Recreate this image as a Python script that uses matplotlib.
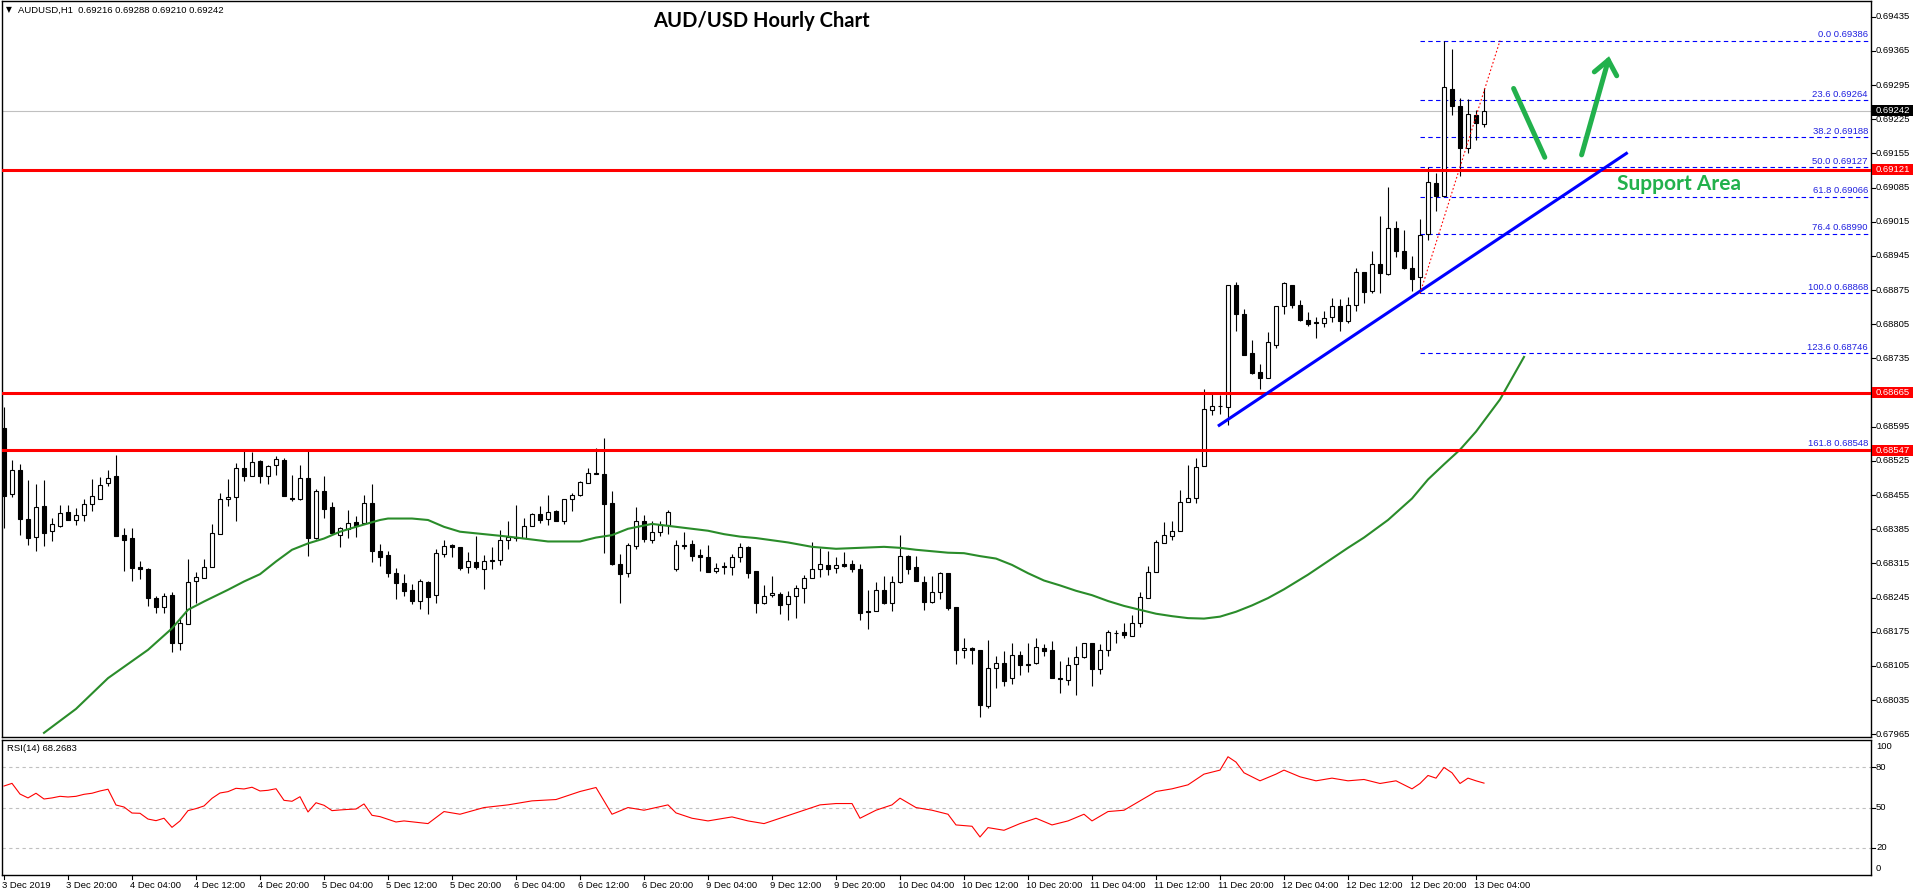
import matplotlib
matplotlib.use("Agg")
import matplotlib.pyplot as plt
import matplotlib.transforms as mtransforms
from matplotlib.patches import Rectangle

# ---------------- data ----------------
opens = [0.68592,0.68457,0.68506,0.68406,0.68370,0.68432,0.68381,0.68392,0.68420,0.68405,
0.68414,0.68436,0.68446,0.68479,0.68495,0.68373,0.68367,0.68308,0.68303,0.68244,
0.68225,0.68250,0.68153,0.68190,0.68280,0.68285,0.68308,0.68375,0.68446,0.68452,
0.68510,0.68495,0.68524,0.68495,0.68516,0.68526,0.68450,0.68448,0.68489,0.68368,
0.68463,0.68430,0.68373,0.68386,0.68399,0.68397,0.68438,0.68340,0.68332,0.68295,
0.68274,0.68260,0.68239,0.68278,0.68250,0.68334,0.68352,0.68349,0.68307,0.68317,
0.68304,0.68323,0.68323,0.68362,0.68369,0.68368,0.68391,0.68416,0.68407,0.68422,
0.68401,0.68448,0.68456,0.68479,0.68500,0.68498,0.68438,0.68313,0.68296,0.68351,
0.68401,0.68364,0.68379,0.68394,0.68304,0.68352,0.68354,0.68332,0.68328,0.68299,
0.68310,0.68308,0.68329,0.68349,0.68300,0.68233,0.68250,0.68252,0.68231,0.68248,
0.68264,0.68285,0.68303,0.68311,0.68305,0.68313,0.68313,0.68303,0.68217,0.68217,
0.68260,0.68233,0.68276,0.68330,0.68308,0.68278,0.68237,0.68256,0.68295,0.68225,
0.68137,0.68141,0.68138,0.68022,0.68100,0.68112,0.68080,0.68127,0.68106,0.68112,
0.68141,0.68138,0.68080,0.68076,0.68108,0.68123,0.68153,0.68098,0.68137,0.68172,
0.68174,0.68166,0.68194,0.68244,0.68297,0.68356,0.68372,0.68382,0.68440,0.68450,
0.68515,0.68629,0.68638,0.68636,0.68885,0.68826,0.68746,0.68707,0.68695,0.68763,
0.68842,0.68886,0.68845,0.68813,0.68809,0.68807,0.68820,0.68842,0.68811,0.68844,
0.68911,0.68873,0.68928,0.68908,0.69002,0.68956,0.68921,0.68901,0.68990,0.69094,
0.69068,0.69286,0.69253,0.69167,0.69233,0.69216]
highs = [0.68636,0.68527,0.68519,0.68486,0.68478,0.68486,0.68409,0.68435,0.68435,0.68428,
0.68447,0.68487,0.68493,0.68506,0.68537,0.68388,0.68388,0.68319,0.68306,0.68248,
0.68255,0.68257,0.68206,0.68324,0.68297,0.68324,0.68395,0.68459,0.68487,0.68521,
0.68546,0.68544,0.68526,0.68516,0.68535,0.68530,0.68496,0.68517,0.68547,0.68467,
0.68494,0.68441,0.68390,0.68425,0.68412,0.68455,0.68477,0.68354,0.68340,0.68306,
0.68293,0.68273,0.68283,0.68280,0.68344,0.68364,0.68354,0.68349,0.68338,0.68371,
0.68332,0.68349,0.68384,0.68401,0.68435,0.68409,0.68419,0.68432,0.68455,0.68425,
0.68448,0.68460,0.68484,0.68510,0.68552,0.68572,0.68463,0.68334,0.68356,0.68430,
0.68414,0.68401,0.68401,0.68425,0.68364,0.68379,0.68363,0.68344,0.68352,0.68315,
0.68317,0.68334,0.68356,0.68351,0.68300,0.68271,0.68289,0.68256,0.68259,0.68271,
0.68292,0.68358,0.68346,0.68341,0.68328,0.68338,0.68322,0.68313,0.68261,0.68276,
0.68289,0.68289,0.68373,0.68332,0.68330,0.68289,0.68289,0.68297,0.68295,0.68225,
0.68162,0.68143,0.68138,0.68158,0.68125,0.68136,0.68151,0.68135,0.68152,0.68162,
0.68149,0.68156,0.68115,0.68123,0.68145,0.68153,0.68153,0.68149,0.68178,0.68178,
0.68192,0.68209,0.68256,0.68309,0.68362,0.68400,0.68402,0.68466,0.68517,0.68531,
0.68673,0.68663,0.68660,0.68885,0.68891,0.68836,0.68773,0.68723,0.68789,0.68842,
0.68891,0.68886,0.68854,0.68830,0.68820,0.68832,0.68858,0.68857,0.68861,0.68920,
0.68911,0.68956,0.69027,0.69086,0.69017,0.68998,0.68944,0.69020,0.69128,0.69114,
0.69386,0.69368,0.69268,0.69266,0.69243,0.69288]
lows = [0.68387,0.68452,0.68373,0.68353,0.68341,0.68351,0.68360,0.68390,0.68403,0.68394,
0.68401,0.68423,0.68446,0.68474,0.68372,0.68300,0.68280,0.68284,0.68228,0.68214,
0.68214,0.68134,0.68138,0.68190,0.68233,0.68285,0.68308,0.68375,0.68433,0.68401,
0.68483,0.68495,0.68480,0.68478,0.68496,0.68454,0.68442,0.68445,0.68331,0.68366,
0.68409,0.68377,0.68348,0.68368,0.68370,0.68397,0.68317,0.68310,0.68288,0.68242,
0.68249,0.68231,0.68222,0.68211,0.68233,0.68329,0.68329,0.68301,0.68296,0.68304,
0.68263,0.68303,0.68311,0.68345,0.68360,0.68368,0.68391,0.68397,0.68394,0.68401,
0.68395,0.68423,0.68454,0.68479,0.68498,0.68337,0.68312,0.68233,0.68288,0.68345,
0.68358,0.68356,0.68371,0.68375,0.68300,0.68345,0.68319,0.68300,0.68298,0.68295,
0.68293,0.68291,0.68317,0.68286,0.68213,0.68231,0.68247,0.68212,0.68199,0.68204,
0.68233,0.68285,0.68288,0.68292,0.68296,0.68307,0.68298,0.68200,0.68180,0.68217,
0.68231,0.68218,0.68274,0.68294,0.68280,0.68220,0.68233,0.68243,0.68220,0.68108,
0.68122,0.68110,0.68000,0.68018,0.68059,0.68063,0.68069,0.68086,0.68092,0.68108,
0.68125,0.68080,0.68049,0.68067,0.68046,0.68121,0.68063,0.68088,0.68125,0.68151,
0.68162,0.68166,0.68184,0.68244,0.68297,0.68356,0.68363,0.68381,0.68440,0.68439,
0.68515,0.68620,0.68622,0.68598,0.68792,0.68742,0.68704,0.68673,0.68695,0.68756,
0.68826,0.68839,0.68811,0.68801,0.68777,0.68799,0.68809,0.68792,0.68807,0.68832,
0.68849,0.68868,0.68868,0.68905,0.68943,0.68919,0.68873,0.68868,0.68978,0.69037,
0.69068,0.69234,0.69109,0.69155,0.69183,0.69210]
closes = [0.68453,0.68506,0.68407,0.68368,0.68431,0.68378,0.68395,0.68418,0.68404,0.68414,
0.68436,0.68453,0.68475,0.68491,0.68372,0.68364,0.68306,0.68303,0.68244,0.68225,
0.68248,0.68153,0.68192,0.68278,0.68287,0.68307,0.68377,0.68446,0.68452,0.68510,
0.68495,0.68522,0.68495,0.68514,0.68528,0.68454,0.68448,0.68489,0.68368,0.68464,
0.68427,0.68377,0.68387,0.68397,0.68391,0.68438,0.68341,0.68329,0.68296,0.68274,
0.68259,0.68239,0.68280,0.68247,0.68336,0.68350,0.68349,0.68306,0.68319,0.68307,
0.68319,0.68321,0.68364,0.68369,0.68367,0.68391,0.68416,0.68405,0.68420,0.68401,
0.68448,0.68455,0.68481,0.68500,0.68498,0.68437,0.68314,0.68293,0.68352,0.68401,
0.68366,0.68379,0.68394,0.68420,0.68352,0.68351,0.68331,0.68328,0.68298,0.68305,
0.68308,0.68328,0.68348,0.68296,0.68233,0.68248,0.68254,0.68229,0.68248,0.68264,
0.68285,0.68303,0.68313,0.68303,0.68311,0.68310,0.68303,0.68213,0.68215,0.68260,
0.68233,0.68278,0.68330,0.68304,0.68280,0.68237,0.68256,0.68295,0.68224,0.68137,
0.68141,0.68137,0.68024,0.68100,0.68112,0.68074,0.68127,0.68106,0.68110,0.68143,
0.68135,0.68080,0.68078,0.68106,0.68123,0.68153,0.68098,0.68137,0.68174,0.68173,
0.68168,0.68194,0.68246,0.68297,0.68358,0.68373,0.68382,0.68440,0.68450,0.68512,
0.68631,0.68638,0.68638,0.68885,0.68826,0.68742,0.68705,0.68695,0.68769,0.68842,
0.68889,0.68845,0.68814,0.68806,0.68807,0.68817,0.68842,0.68811,0.68844,0.68911,
0.68872,0.68928,0.68909,0.69002,0.68956,0.68921,0.68898,0.68987,0.69096,0.69068,
0.69290,0.69253,0.69167,0.69235,0.69218,0.69242]

# moving average (read at sampled bars)
ma_idx = [5, 9, 13, 18, 21, 23, 25, 28, 30, 32, 34, 36, 38, 40, 42, 44, 47, 48, 51, 53,
          55, 57, 60, 63, 66, 68, 72, 74, 76, 78, 81, 83, 85, 88, 90, 92, 94, 98, 101, 104,
          107, 110, 112, 114, 118, 120, 122, 124, 126, 128, 130, 132, 134, 136, 138, 140, 142, 144, 146, 148,
          150, 152, 154, 156, 158, 160, 163, 166, 168, 170, 173, 176, 178, 180, 182, 184, 187, 190]
ma_val = [0.67968, 0.68017, 0.68080, 0.68138, 0.68182, 0.68220, 0.68237, 0.68261, 0.68278, 0.68293,
          0.68319, 0.68343, 0.68356, 0.68366, 0.68380, 0.68390, 0.68404, 0.68407, 0.68407, 0.68404,
          0.68390, 0.68380, 0.68375, 0.68370, 0.68364, 0.68360, 0.68360, 0.68368, 0.68373, 0.68386,
          0.68396, 0.68392, 0.68388, 0.68382, 0.68375, 0.68370, 0.68367, 0.68358, 0.68349, 0.68345,
          0.68347, 0.68349, 0.68347, 0.68343, 0.68337, 0.68336, 0.68330, 0.68325, 0.68312, 0.68295,
          0.68280, 0.68270, 0.68259, 0.68250, 0.68238, 0.68228, 0.68220, 0.68212, 0.68207, 0.68203,
          0.68202, 0.68206, 0.68216, 0.68229, 0.68244, 0.68262, 0.68292, 0.68325, 0.68347, 0.68368,
          0.68404, 0.68448, 0.68487, 0.68518, 0.68548, 0.68585, 0.68651, 0.68738]

# RSI(14)
rsi_idx = list(range(50)) + [50, 53, 55, 57, 60, 63, 66, 69, 72, 74, 75, 76, 78, 80, 83, 84, 86, 88, 91, 93,
          95, 97, 100, 102, 104, 106, 107, 109, 111, 112, 114, 116, 118, 119, 121, 122, 123, 125, 127, 129,
          131, 133, 135, 136, 138, 140, 142, 144, 146, 148, 150, 152, 153, 154, 155, 157, 159, 160, 162, 164,
          166, 168, 170, 172, 174, 176, 177, 178, 179, 180, 181, 182, 183, 184, 185]
rsi_val = [66.1, 68.1, 60.1, 57.2, 60.7, 56.4, 57.2, 58.4, 57.9, 58.4, 59.9, 60.7, 62.4, 63.7, 51.9, 50.4,
           45.9, 45.7, 41.4, 40.2, 42.0, 35.2, 40.0, 47.7, 49.2, 51.2, 56.9, 60.9, 61.9, 64.4, 63.9, 65.2,
           62.4, 62.9, 64.1, 55.4, 54.7, 58.1, 46.7, 53.6, 51.7, 47.7, 48.2, 48.6, 48.9, 52.7, 44.2, 43.2,
           41.2, 39.2,
           40, 38, 47, 45, 50, 52, 55, 56, 62, 65, 55, 45, 50, 48, 52, 46, 42, 40, 43, 40,
           38, 42, 48, 52, 53, 53, 42, 48, 52, 57, 50, 48, 45, 37, 36, 28, 35, 33, 38, 42,
           37, 40, 45, 40, 47, 48, 55, 62, 64, 67, 75, 78, 88, 84, 76, 70, 75, 78, 73, 70,
           72, 70, 71, 68, 70, 64, 68, 74, 72, 80, 76, 68, 72, 70, 68.27]

price_tick_labels = ["0.69435", "0.69365", "0.69295", "0.69225", "0.69155", "0.69085", "0.69015",
                     "0.68945", "0.68875", "0.68805", "0.68735", "0.68665", "0.68595", "0.68525",
                     "0.68455", "0.68385", "0.68315", "0.68245", "0.68175", "0.68105", "0.68035", "0.67965"]
time_labels = ["3 Dec 2019", "3 Dec 20:00", "4 Dec 04:00", "4 Dec 12:00", "4 Dec 20:00", "5 Dec 04:00",
               "5 Dec 12:00", "5 Dec 20:00", "6 Dec 04:00", "6 Dec 12:00", "6 Dec 20:00", "9 Dec 04:00",
               "9 Dec 12:00", "9 Dec 20:00", "10 Dec 04:00", "10 Dec 12:00", "10 Dec 20:00", "11 Dec 04:00",
               "11 Dec 12:00", "11 Dec 20:00", "12 Dec 04:00", "12 Dec 12:00", "12 Dec 20:00", "13 Dec 04:00"]
time_label_bars = [0, 8, 16, 24, 32, 40, 48, 56, 64, 72, 80, 88, 96, 104, 112, 120, 128, 136, 144, 152,
                   160, 168, 176, 184]

fib_names = ["0.0", "23.6", "38.2", "50.0", "61.8", "76.4", "100.0", "123.6", "161.8"]
fib_prices = [0.69386, 0.69264, 0.69188, 0.69127, 0.69066, 0.68990, 0.68868, 0.68746, 0.68548]
fib_start_bar = 177
red_levels = [0.69121, 0.68665, 0.68547]
bid_price = 0.69242
rsi_levels = [80, 50, 20]
header = "AUDUSD,H1  0.69216 0.69288 0.69210 0.69242"
rsi_label = "RSI(14) 68.2683"

# annotation geometry (bar index, price)
trend_line = ([151.9, 202.8], [0.68598, 0.69155])
fib_trend = ([177, 187], [0.68868, 0.69386])
arrow_down = ([188.7, 192.6], [0.69288, 0.69147])
arrow_up = ([197.2, 200.54], [0.69152, 0.69346])
arrow_up_head = ([198.79, 200.54, 201.59], [0.69322, 0.69346, 0.69314])

# ---------------- figure ----------------
W, H = 1916, 896
fig = plt.figure(figsize=(W / 100, H / 100), dpi=100)
fig.patch.set_facecolor("white")
FONT = ["Liberation Sans", "DejaVu Sans"]
FS = 6.8

def fx(px):
    return px / W

def fy(py):
    return 1 - py / H

L, R = 2, 1871
main_top, main_bot = 1, 737
rsi_top, rsi_bot = 739.5, 875

ax = fig.add_axes([fx(L), fy(main_bot), (R - L) / W, (main_bot - main_top) / H])
ax2 = fig.add_axes([fx(L), fy(rsi_bot), (R - L) / W, (rsi_bot - rsi_top) / H])

xl = ((L - 4) / 8.0, (R - 4) / 8.0)
for a in (ax, ax2):
    a.set_xlim(*xl)
    a.set_xticks([])
    a.set_yticks([])
    for s in a.spines.values():
        s.set_color("black")
        s.set_linewidth(1.0)
    a.set_facecolor("white")

def price_at(y):
    return 0.69435 - (y - 16.7) / 48816.0

ax.set_ylim(price_at(main_bot), price_at(main_top))
ax2.set_ylim(-0.45, 100.9)

# candles
n = len(opens)
xs = list(range(n))
ax.vlines(xs, lows, highs, color="black", linewidth=0.8, zorder=3)
for i in range(n):
    o, c = opens[i], closes[i]
    lo, hi = min(o, c), max(o, c)
    h = max(hi - lo, 0.000004)
    face = "white" if c > o else "black"
    ax.add_patch(Rectangle((i - 0.25, lo), 0.5, h, facecolor=face, edgecolor="black",
                           linewidth=0.8, zorder=4))

# moving average
ax.plot(ma_idx, ma_val, color="#2A8C2A", linewidth=1.5, zorder=5)

# bid line
ax.axhline(bid_price, color="#C0C0C0", linewidth=0.8, zorder=1)

# fib levels
for p in fib_prices:
    ax.plot([fib_start_bar, xl[1]], [p, p], color="#0000FF", linewidth=0.8,
            dashes=(4, 3), zorder=2)
blend_fig = mtransforms.blended_transform_factory(fig.transFigure, ax.transData)
up2 = mtransforms.ScaledTranslation(0, 1.5 / 100, fig.dpi_scale_trans)
for name, p in zip(fib_names, fib_prices):
    ax.text(fx(R - 3), p, f"{name} {p:.5f}", transform=blend_fig + up2, ha="right", va="bottom",
            fontsize=FS, color="#2020E0", family=FONT, zorder=6, clip_on=False)

# red support / resistance lines
for p in red_levels:
    ax.axhline(p, color="#FF0000", linewidth=2.2, zorder=6)

# trend lines
ax.plot(trend_line[0], trend_line[1], color="#0000FF", linewidth=2.2, zorder=7)
ax.plot(fib_trend[0], fib_trend[1], color="#FF0000", linewidth=0.8, dashes=(1.5, 2), zorder=7)

# green arrows
GREEN = "#22B14C"
ax.plot(arrow_down[0], arrow_down[1], color=GREEN, linewidth=3.6, solid_capstyle="round", zorder=8)
ax.plot(arrow_up[0], arrow_up[1], color=GREEN, linewidth=3.6, solid_capstyle="round", zorder=8)
ax.plot(arrow_up_head[0], arrow_up_head[1], color=GREEN, linewidth=3.6, solid_capstyle="round",
        solid_joinstyle="miter", zorder=8)

# texts in the main chart
fig.text(fx(1617), fy(184), "Support Area", color=GREEN, fontsize=15, fontweight="bold",
         family=["Lato", "DejaVu Sans"], ha="left", va="center")
fig.text(fx(761), fy(21), "AUD/USD Hourly Chart", color="black", fontsize=14.5, fontweight="bold",
         family=["Lato", "DejaVu Sans"], ha="center", va="center")
fig.text(fx(6), fy(10), "\u25BC", fontsize=5.5, family=["DejaVu Sans"], ha="left", va="center")
fig.text(fx(18), fy(10), header, fontsize=FS, family=FONT, ha="left", va="center")
fig.text(fx(7), fy(748), rsi_label, fontsize=FS, family=FONT, ha="left", va="center")

# price axis
for lab in price_tick_labels:
    p = float(lab)
    ax.plot([1.0, 1.0 + 4 / (R - L)], [p, p], transform=mtransforms.blended_transform_factory(
        ax.transAxes, ax.transData), color="black", linewidth=0.8, clip_on=False)
    ax.text(fx(1876), p, lab, transform=blend_fig, fontsize=FS, family=FONT, ha="left",
            va="center", clip_on=False)

px_price = (price_at(main_top) - price_at(main_bot)) / (main_bot - main_top)

def price_box(p, face):
    ax.add_patch(Rectangle((fx(1872), p - 5.5 * px_price), fx(41), 11 * px_price,
                           transform=blend_fig, facecolor=face, edgecolor="none",
                           clip_on=False, zorder=10))
    ax.text(fx(1876), p, f"{p:.5f}", transform=blend_fig, fontsize=FS, family=FONT,
            color="white", ha="left", va="center", clip_on=False, zorder=11)

price_box(bid_price, "black")
for p in red_levels:
    price_box(p, "#FF0000")

# RSI panel
ax2.plot(rsi_idx, rsi_val, color="#FF0000", linewidth=0.8, zorder=3)
blend_fig2 = mtransforms.blended_transform_factory(fig.transFigure, ax2.transData)
for lv in rsi_levels:
    ax2.axhline(lv, color="#C0C0C0", linewidth=0.8, dashes=(3, 3), zorder=1)
    ax2.plot([1.0, 1.0 + 4 / (R - L)], [lv, lv], transform=mtransforms.blended_transform_factory(
        ax2.transAxes, ax2.transData), color="black", linewidth=0.8, clip_on=False)
    ax2.text(fx(1876), lv, str(lv), transform=blend_fig2, fontsize=FS, family=FONT,
             ha="left", va="center", clip_on=False)
fig.text(fx(1876), fy(746), "100", fontsize=FS, family=FONT, ha="left", va="center")
fig.text(fx(1876), fy(868), "0", fontsize=FS, family=FONT, ha="left", va="center")

# time axis
for b, lab in zip(time_label_bars, time_labels):
    xpix = 4 + 8 * b
    fig.add_artist(plt.Line2D([fx(xpix), fx(xpix)], [fy(rsi_bot), fy(rsi_bot + 4)],
                              color="black", linewidth=0.8))
    fig.text(fx(xpix - 2), fy(885), lab, fontsize=FS, family=FONT, ha="left", va="center")

fig.savefig("out.png", dpi=100, facecolor="white")
